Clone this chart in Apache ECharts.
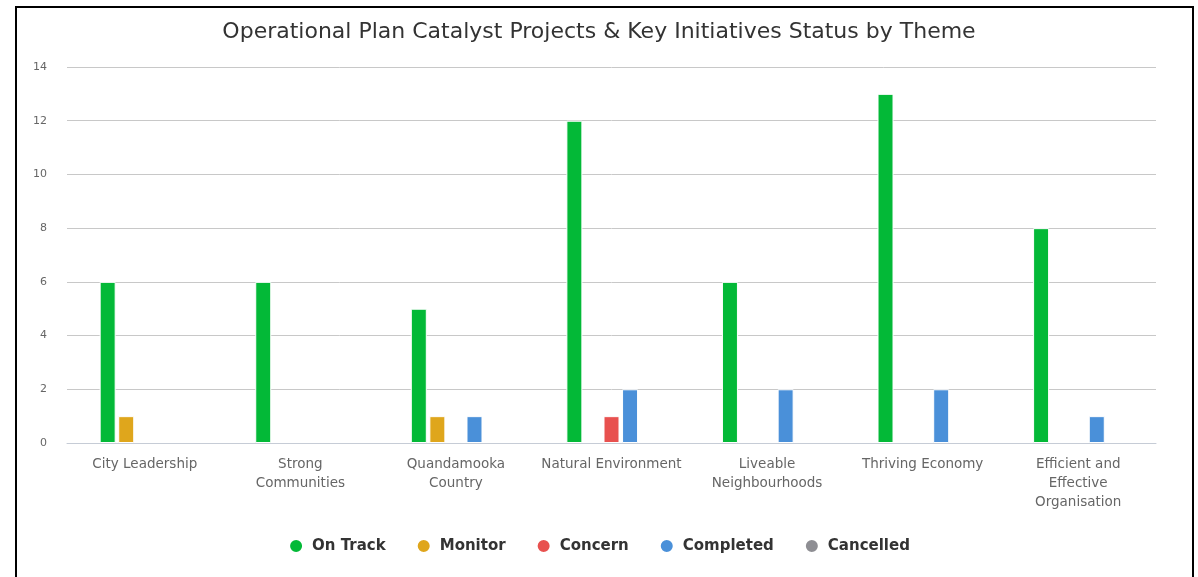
<!DOCTYPE html>
<html>
<head>
<meta charset="utf-8">
<script src="https://cdn.jsdelivr.net/npm/echarts@6/dist/echarts.min.js"></script>
<style>
  html, body { margin: 0; padding: 0; background: #fff; overflow: hidden; }
  #chart { position: absolute; left: 0; top: 0; width: 1198px; height: 577px; }
  #frame { position: absolute; left: 15px; top: 6px; width: 1175px; height: 600px; border: 2px solid #000; pointer-events: none; }
</style>
</head>
<body>
<div id="chart"></div>
<div id="frame"></div>
<script>
const categories = ['City Leadership', 'Strong Communities', 'Quandamooka Country', 'Natural Environment', 'Liveable Neighbourhoods', 'Thriving Economy', 'Efficient and Effective Organisation'];
const categoryLabels = ['City Leadership', 'Strong\nCommunities', 'Quandamooka\nCountry', 'Natural Environment', 'Liveable\nNeighbourhoods', 'Thriving Economy', 'Efficient and\nEffective\nOrganisation'];
const seriesNames = ['On Track', 'Monitor', 'Concern', 'Completed', 'Cancelled'];
const onTrack   = [6, 6, 5, 12, 6, 13, 8];
const monitor   = [1, 0, 1, 0, 0, 0, 0];
const concern   = [0, 0, 0, 1, 0, 0, 0];
const completed = [0, 0, 1, 2, 2, 2, 1];
const cancelled = [0, 0, 0, 0, 0, 0, 0];
const yTicks = [0, 2, 4, 6, 8, 10, 12, 14];

const seriesData = [onTrack, monitor, concern, completed, cancelled];
const colors = ['#03b937', '#dfa61c', '#e8514f', '#4a90d9', '#8e8e93'];

const chart = echarts.init(document.getElementById('chart'), null, { renderer: 'canvas' });
const option = {
  animation: false,
  color: colors,
  title: {
    text: 'Operational Plan Catalyst Projects & Key Initiatives Status by Theme',
    left: 'center',
    top: 16,
    textStyle: { fontFamily: 'DejaVu Sans', fontSize: 22, fontWeight: 'normal', color: '#333' }
  },
  legend: {
    top: 533,
    left: 'center',
    icon: 'circle',
    itemWidth: 14,
    itemHeight: 14,
    itemGap: 30,
    textStyle: { fontFamily: 'DejaVu Sans', fontSize: 15, fontWeight: 'bold', color: '#333', padding: [0, 0, 0, 4] },
    data: seriesNames
  },
  grid: { left: 67, right: 42, top: 67, bottom: 134, containLabel: false },
  xAxis: {
    type: 'category',
    data: categories,
    axisTick: { show: false },
    axisLine: { lineStyle: { color: '#c6ccd6', width: 1 } },
    axisLabel: {
      interval: 0,
      margin: 12,
      fontFamily: 'DejaVu Sans',
      fontSize: 13.5,
      lineHeight: 19,
      color: '#666',
      align: 'center',
      formatter: (v, i) => categoryLabels[i]
    }
  },
  yAxis: {
    type: 'value',
    min: yTicks[0],
    max: yTicks[yTicks.length - 1],
    interval: 2,
    axisLine: { show: false },
    axisTick: { show: false },
    splitLine: { lineStyle: { color: '#c8c8c8', width: 1 } },
    axisLabel: { fontFamily: 'DejaVu Sans', fontSize: 11, color: '#666', margin: 20 }
  },
  series: seriesNames.map((name, i) => ({
    name: name,
    type: 'bar',
    data: seriesData[i].map(v => (v === 0 ? null : v)),
    barWidth: 16,
    barGap: '16%',
    itemStyle: { color: colors[i], borderColor: '#fff', borderWidth: 1 }
  }))
};
chart.setOption(option);
</script>
</body>
</html>
